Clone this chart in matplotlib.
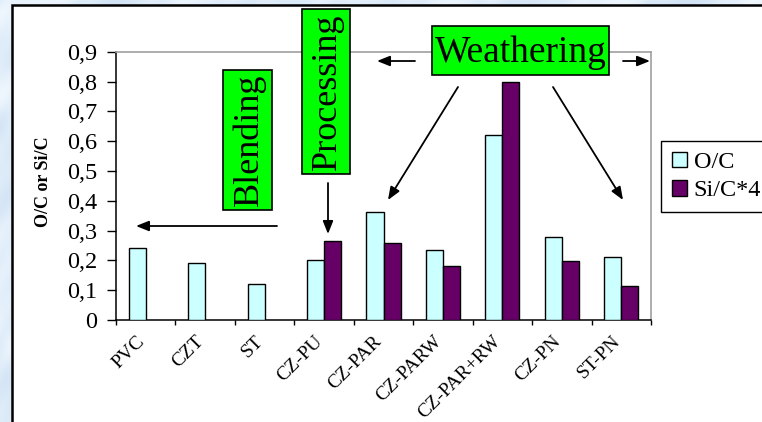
import numpy as np
import matplotlib
matplotlib.use("Agg")
import matplotlib.pyplot as plt
from matplotlib.patches import Rectangle
from matplotlib.transforms import ScaledTranslation

# ---- data -------------------------------------------------------------
categories = ["PVC", "CZT", "ST", "CZ-PU", "CZ-PAR", "CZ-PARW",
              "CZ-PAR+RW", "CZ-PN", "ST-PN"]
o_c = [0.24, 0.19, 0.12, 0.20, 0.362, 0.234, 0.62, 0.278, 0.212]
si_c_x4 = [np.nan, np.nan, np.nan, 0.265, 0.257, 0.181, 0.80, 0.197, 0.115]
y_ticks = [0.0, 0.1, 0.2, 0.3, 0.4, 0.5, 0.6, 0.7, 0.8, 0.9]
y_tick_labels = ["0", "0,1", "0,2", "0,3", "0,4", "0,5", "0,6", "0,7", "0,8", "0,9"]
series_names = ["O/C", "Si/C*4"]
y_label = "O/C or Si/C"

W, H = 762, 422
SERIF = "Liberation Serif"
plt.rcParams["font.family"] = [SERIF, "DejaVu Serif"]


def F(x, y):
    """pixel position (from top-left) -> figure fraction"""
    return x / W, 1 - y / H


fig = plt.figure(figsize=(W / 100, H / 100), dpi=100)

# ---- light blue marble backdrop -------------------------------------
bg = fig.add_axes([0, 0, 1, 1], zorder=0)
yy, xx = np.mgrid[0:H, 0:W].astype(float)
veins = (np.sin(xx / 23.0 + 3 * np.sin(yy / 37.0)) +
         0.6 * np.sin(yy / 11.0 + 2 * np.sin(xx / 29.0)) +
         0.4 * np.sin((xx + yy) / 7.0 + np.sin(xx / 13.0)))
t = (veins - veins.min()) / (veins.max() - veins.min())
c0 = np.array([0.82, 0.89, 0.96])
c1 = np.array([0.94, 0.97, 0.995])
tex = c0[None, None, :] * (1 - t[..., None]) + c1[None, None, :] * t[..., None]
bg.imshow(tex, extent=[0, 1, 0, 1], aspect="auto", interpolation="bilinear")
bg.set_xlim(0, 1)
bg.set_ylim(0, 1)
bg.axis("off")

# white chart panel
x0, y0 = F(12, 5)
bg.add_patch(Rectangle((x0, -0.02), 1.05 - x0, y0 + 0.02, facecolor="white",
                       edgecolor="black", linewidth=1.8, zorder=2))

# ---- main bar axes -----------------------------------------------------
left, top = F(116, 51.7)
right, bottom = F(651, 320)
ax = fig.add_axes([left, bottom, right - left, top - bottom], zorder=2)
ax.set_facecolor("white")

x = np.arange(len(categories))
w = 0.286
ax.bar(x - w / 2, o_c, w, color="#ccffff", edgecolor="black",
       linewidth=1.0, label=series_names[0], zorder=3)
ax.bar(x + w / 2, si_c_x4, w, color="#660066", edgecolor="black",
       linewidth=1.0, label=series_names[1], zorder=3)

ax.set_xlim(-0.5, len(categories) - 0.5)
ax.set_ylim(0, 0.9)
ax.set_yticks(y_ticks)
ax.set_yticklabels(y_tick_labels, fontsize=17.5, family=SERIF)
ax.tick_params(axis="y", direction="out", length=6.3, width=1.0, pad=7)
ax.set_xticks(np.arange(len(categories) + 1) - 0.5)
ax.set_xticklabels([])
ax.tick_params(axis="x", direction="out", length=3.8, width=1.0)

for side in ("left", "bottom"):
    ax.spines[side].set_color("black")
    ax.spines[side].set_linewidth(1.1)
for side in ("top", "right"):
    ax.spines[side].set_color("#a0a0a0")
    ax.spines[side].set_linewidth(1.2)

# rotated category labels
shift = ScaledTranslation(-10 / 100, -13 / 100, fig.dpi_scale_trans)
for xi, name in zip(x, categories):
    ax.text(xi, 0, name, rotation=45, rotation_mode="anchor", ha="right",
            va="top", fontsize=14, family=SERIF,
            transform=ax.get_xaxis_transform() + shift)

fig.text(*F(44, 182), y_label, rotation=90, ha="center", va="center",
         fontsize=13, fontweight="bold", family=SERIF)

# ---- legend --------------------------------------------------------------
leg = ax.legend(loc="upper left", bbox_to_anchor=F(661, 140.7),
                bbox_transform=fig.transFigure,
                frameon=True, fancybox=False, framealpha=1,
                edgecolor="black", borderaxespad=0, borderpad=0.45,
                handlelength=0.6, handleheight=0.6, handletextpad=0.3,
                labelspacing=0.3, prop={"family": SERIF, "size": 17.5})
leg.get_frame().set_linewidth(1.0)
leg.set_zorder(5)

# ---- green labelled boxes and arrows -------------------------------
over = fig.add_axes([0, 0, 1, 1], zorder=4)
over.set_xlim(0, W)
over.set_ylim(H, 0)
over.axis("off")
over.patch.set_alpha(0)

GREEN = "#00ff00"
boxes = [
    ("Weathering", 431.7, 26, 609, 74.7, 0, 27),
    ("Processing", 301.7, 9, 350, 174, 90, 26),
    ("Blending", 223, 70, 271.7, 210, 90, 26),
]
for label, bx0, by0, bx1, by1, rot, fs in boxes:
    over.add_patch(Rectangle((bx0, by0), bx1 - bx0, by1 - by0,
                             facecolor=GREEN, edgecolor="black",
                             linewidth=1.2, zorder=5))
    over.text((bx0 + bx1) / 2 + (2 if rot else 0), (by0 + by1) / 2 + (0 if rot else 2),
              label, rotation=rot, ha="center", va="center",
              fontsize=fs, family=SERIF, zorder=6)

arrows = [
    ((277, 226), (136, 226)),
    ((328, 183), (328, 234)),
    ((415, 61), (377, 61)),
    ((623, 61), (650, 61)),
    ((458, 87), (388, 200)),
    ((553, 87), (623, 200)),
]
for (sx, sy), (ex, ey) in arrows:
    over.annotate("", xy=(ex, ey), xytext=(sx, sy),
                  arrowprops=dict(arrowstyle="-|>,head_length=0.55,head_width=0.22",
                                  color="black", lw=1.3, mutation_scale=14,
                                  shrinkA=0, shrinkB=0), zorder=6)

fig.savefig("out.png", dpi=100)
